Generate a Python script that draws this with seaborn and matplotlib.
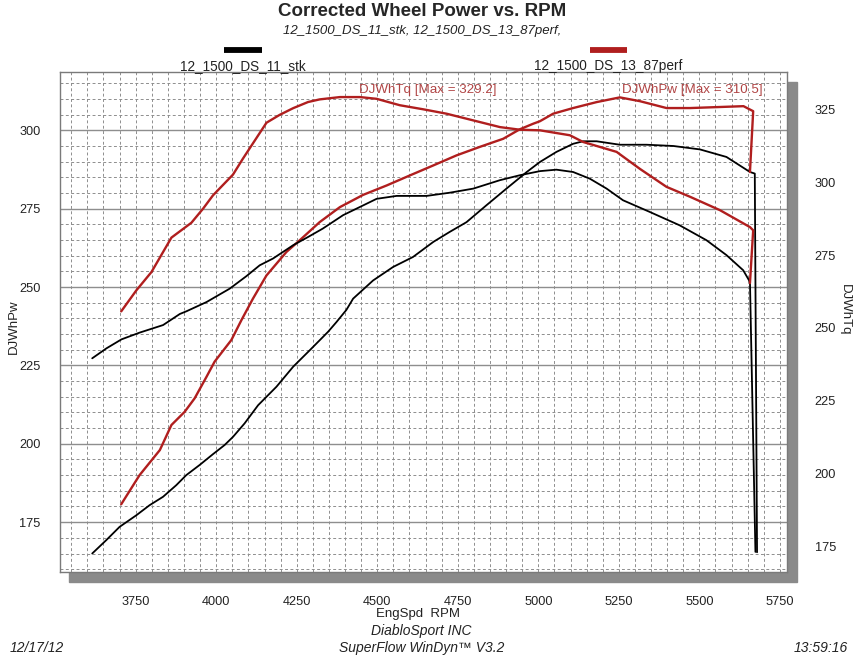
import matplotlib
matplotlib.use('Agg')
import matplotlib.pyplot as plt
from matplotlib.lines import Line2D
from matplotlib.patches import Rectangle
from matplotlib.ticker import MultipleLocator
import seaborn as sns
import pandas as pd

# stock run (black)
stk_pw_rpm = [3615, 3659, 3700, 3752, 3793, 3835, 3876, 3907, 3948, 3990, 4026, 4052, 4088,
              4130, 4187, 4239, 4291, 4347, 4373, 4404, 4425, 4487, 4549, 4611, 4674, 4725,
              4777, 4839, 4901, 4964, 5005, 5056, 5108, 5139, 5181, 5253, 5336, 5419, 5502,
              5584, 5657, 5672, 5679]
stk_pw = [165.0, 169.3, 173.5, 177.2, 180.4, 183.1, 186.8, 190.0, 193.2, 196.7, 199.6, 202.2,
          206.5, 212.3, 218.2, 224.6, 229.9, 235.7, 238.8, 242.7, 246.3, 252.1, 256.4, 259.6,
          264.4, 267.6, 270.7, 276.1, 281.4, 286.7, 289.9, 293.1, 295.7, 296.5, 296.5, 295.4,
          295.4, 295.0, 293.9, 291.5, 286.7, 286.2, 165.4]

stk_tq_rpm = [3615, 3659, 3706, 3762, 3835, 3887, 3907, 3970, 4042, 4094, 4135, 4176, 4239,
              4285, 4331, 4394, 4446, 4498, 4560, 4653, 4725, 4798, 4881, 4943, 5005, 5056,
              5108, 5160, 5212, 5263, 5346, 5439, 5522, 5584, 5636, 5657, 5674]
stk_tq = [239.6, 243.0, 246.1, 248.4, 251.0, 254.8, 255.7, 258.9, 263.5, 267.8, 271.5, 273.8,
          278.4, 281.2, 284.1, 288.7, 291.5, 294.3, 295.3, 295.3, 296.4, 297.8, 300.7, 302.4,
          303.8, 304.3, 303.5, 301.2, 297.8, 293.8, 289.8, 285.2, 280.1, 275.0, 269.8, 265.8,
          173.2]

# perf run (red)
perf_pw_rpm = [3705, 3762, 3825, 3861, 3902, 3933, 3970, 3995, 4047, 4078, 4114, 4156, 4218,
               4259, 4321, 4384, 4456, 4529, 4601, 4674, 4746, 4818, 4891, 4942, 4984, 5005,
               5046, 5108, 5181, 5253, 5315, 5398, 5471, 5554, 5637, 5667, 5657]
perf_pw = [180.7, 190.0, 198.0, 206.0, 210.2, 214.5, 221.4, 226.2, 233.1, 239.4, 246.3, 253.7,
           261.2, 264.9, 270.7, 275.5, 279.4, 282.4, 285.6, 288.8, 292.0, 294.7, 297.3, 300.3,
           302.1, 302.9, 305.3, 307.1, 309.0, 310.5, 309.3, 307.1, 307.1, 307.4, 307.7, 306.1,
           286.7]

perf_tq_rpm = [3705, 3752, 3799, 3861, 3923, 3959, 3990, 4052, 4083, 4156, 4197, 4239, 4285,
               4321, 4384, 4446, 4498, 4570, 4643, 4715, 4798, 4881, 4943, 5005, 5098, 5139,
               5243, 5315, 5398, 5471, 5564, 5657, 5667, 5657]
perf_tq = [255.7, 262.9, 269.2, 281.0, 286.1, 290.9, 295.5, 302.6, 308.1, 320.4, 323.1, 325.4,
           327.5, 328.4, 329.2, 329.2, 328.6, 326.4, 325.0, 323.5, 321.2, 318.9, 318.0, 317.8,
           316.1, 313.8, 310.4, 304.6, 298.4, 295.0, 290.4, 284.6, 283.5, 265.4]

pw_ticks = [175, 200, 225, 250, 275, 300]
tq_ticks = [175, 200, 225, 250, 275, 300, 325]
rpm_ticks = [3750, 4000, 4250, 4500, 4750, 5000, 5250, 5500, 5750]

RED = '#b01e1e'
GRID = '#8e8e8e'
TXT = '#222222'

sns.set_style('white')
plt.rcParams['font.family'] = ['Liberation Sans', 'DejaVu Sans']

fig = plt.figure(figsize=(8.57, 6.55), dpi=100)
W, H = 857.0, 655.0
ax = fig.add_axes([60 / W, 1 - 572 / H, 727 / W, 500 / H])
ax2 = ax.twinx()

# drop shadow behind the plot frame
fig.add_artist(Rectangle((69 / W, 1 - 582 / H), 728 / W, 500 / H, transform=fig.transFigure,
                         color='#8a8a8a', zorder=-1))

def curve(axis, x, y, color, lw):
    df = pd.DataFrame({'rpm': x, 'val': y})
    sns.lineplot(data=df, x='rpm', y='val', ax=axis, sort=False, estimator=None,
                 color=color, lw=lw)

curve(ax, stk_pw_rpm, stk_pw, 'black', 1.3)
curve(ax2, stk_tq_rpm, stk_tq, 'black', 1.3)
curve(ax, perf_pw_rpm, perf_pw, RED, 1.7)
curve(ax2, perf_tq_rpm, perf_tq, RED, 1.7)

ax.set_xlim(3515, 5772)
ax.set_ylim(159.1, 318.6)
ax2.set_ylim(166.3, 337.8)

ax.set_xticks(rpm_ticks)
ax.set_yticks(pw_ticks)
ax2.set_yticks(tq_ticks)
ax.xaxis.set_minor_locator(MultipleLocator(50))
ax.yaxis.set_minor_locator(MultipleLocator(5))

ax.set_axisbelow(True)
ax.grid(which='minor', axis='both', ls=(0, (3, 2.5)), color=GRID, lw=0.7)
ax.grid(which='major', axis='x', ls=(0, (3, 2.5)), color=GRID, lw=0.7)
ax.grid(which='major', axis='y', ls='-', color=GRID, lw=1.0)
ax2.grid(False)

ax.tick_params(which='both', length=0)
ax.tick_params(axis='x', pad=17, labelsize=9.2, colors=TXT)
ax.tick_params(axis='y', pad=14, labelsize=9.2, colors=TXT)
ax2.tick_params(which='both', length=0, pad=20, labelsize=9.2, colors=TXT)

for s in ax.spines.values():
    s.set_color('#7a7a7a')
    s.set_linewidth(1)
for s in ax2.spines.values():
    s.set_visible(False)

ax.set_xlabel('')
ax.set_ylabel('')
ax2.set_ylabel('')

# axis titles
fig.text(418 / W, 1 - 614 / H, 'EngSpd  RPM', ha='center', va='center', fontsize=9.5,
         color=TXT)
fig.text(14 / W, 1 - 327 / H, 'DJWhPw', ha='center', va='center', rotation=90,
         fontsize=9.5, color=TXT)
fig.text(845 / W, 1 - 310 / H, 'DJWhTq', ha='center', va='center', rotation=-90,
         fontsize=9.5, color=TXT)

# headers
fig.text(0.492, 1 - 12 / H, 'Corrected Wheel Power vs. RPM', ha='center', va='center',
         fontsize=13.5, fontweight='bold')
fig.text(0.492, 1 - 31 / H, '12_1500_DS_11_stk, 12_1500_DS_13_87perf,', ha='center',
         va='center', fontsize=9.5, style='italic', color=TXT)

# legend bars
fig.add_artist(Line2D([224 / W, 262 / W], [1 - 50 / H] * 2, color='black', lw=4.2,
                      solid_capstyle='butt', transform=fig.transFigure))
fig.add_artist(Line2D([590 / W, 627 / W], [1 - 50 / H] * 2, color=RED, lw=4.2,
                      solid_capstyle='butt', transform=fig.transFigure))
fig.text(243 / W, 1 - 66 / H, '12_1500_DS_11_stk', ha='center', va='center', fontsize=9.8,
         color=TXT)
fig.text(608 / W, 1 - 66 / H, '12_1500_DS_13_87perf', ha='center', va='center', fontsize=9.8,
         color=TXT)

# max annotations
fig.text(428 / W, 1 - 90 / H, 'DJWhTq [Max = 329.2]', ha='center', va='center',
         fontsize=9.6, color='#b04444')
fig.text(692 / W, 1 - 90 / H, 'DJWhPw [Max = 310.5]', ha='center', va='center',
         fontsize=9.6, color='#b04444')

# footer
fig.text(0.492, 1 - 631 / H, 'DiabloSport INC', ha='center', va='center', fontsize=10,
         style='italic', color=TXT)
fig.text(0.492, 1 - 648 / H, 'SuperFlow WinDyn\u2122 V3.2', ha='center', va='center',
         fontsize=10, style='italic', color=TXT)
fig.text(10 / W, 1 - 648 / H, '12/17/12', ha='left', va='center', fontsize=10,
         style='italic', color=TXT)
fig.text(848 / W, 1 - 648 / H, '13:59:16', ha='right', va='center', fontsize=10,
         style='italic', color=TXT)

fig.savefig('out.png', dpi=100)
